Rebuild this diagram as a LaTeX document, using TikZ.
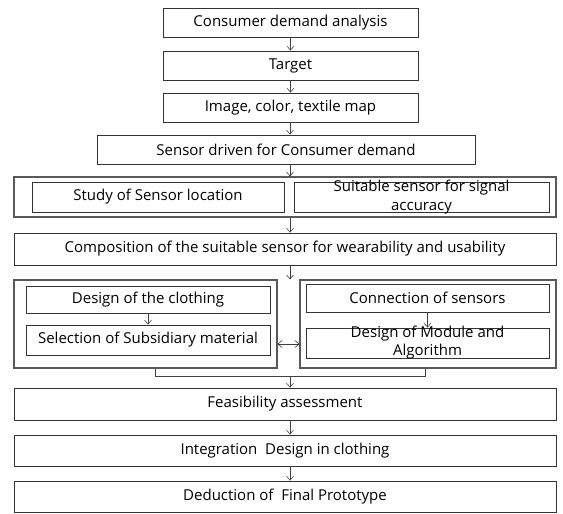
\documentclass[tikz,border=0pt]{standalone}
\usepackage{fontspec}
\setmainfont{Open Sans}
\usetikzlibrary{arrows.meta}
\begin{document}
\begin{tikzpicture}[x=1pt,y=-1pt,
  every node/.style={font=\fontsize{15}{19}\selectfont},
  box/.style={draw=black!80, line width=0.8pt, inner sep=0pt, fill=white},
  group/.style={draw=black!65, line width=1.2pt, inner sep=0pt},
  arr/.style={-{Straight Barb[length=4pt,width=7pt]}, line width=0.6pt, black!75},
  arrboth/.style={{Straight Barb[length=4pt,width=7pt]}-{Straight Barb[length=4pt,width=7pt]}, line width=0.6pt, black!75},
  link/.style={line width=0.8pt, black!75}]
\useasboundingbox (0,0) rectangle (563,514);

% top chain
\node[box, minimum width=255, minimum height=29] (b1) at (290.5,22.5) {Consumer demand analysis};
\node[box, minimum width=255, minimum height=29] (b2) at (290.5,65.5) {Target};
\node[box, minimum width=255, minimum height=29] (b3) at (290.5,107.5) {Image, color, textile map};
\node[box, minimum width=378, minimum height=29] (b4) at (286,149.5) {Sensor driven for Consumer demand};

% sensor study group
\node[group, minimum width=542, minimum height=40] (g1) at (285,197) {};
\node[box, minimum width=252, minimum height=30] (s1) at (158,197) {Study of Sensor location};
\node[box, minimum width=255, minimum height=30,
      label={[align=center, font=\fontsize{15}{19}\selectfont]center:Suitable sensor for signal\\accuracy}] (s2) at (421.5,197) {};

\node[box, minimum width=542, minimum height=32] (comp) at (285,249) {Composition of the suitable sensor for wearability and usability};

% clothing / electronics groups
\node[group, minimum width=263, minimum height=88] (gl) at (145.5,324) {};
\node[box, minimum width=244, minimum height=27] (d1) at (148,299.5) {Design of the clothing};
\node[box, minimum width=244, minimum height=30] (d2) at (148,340) {Selection of Subsidiary material};
\node[group, minimum width=256, minimum height=88] (gr) at (428,324) {};
\node[box, minimum width=243, minimum height=28] (r1) at (427.5,298) {Connection of sensors};
\node[box, minimum width=243, minimum height=30,
      label={[align=center, font=\fontsize{15}{18}\selectfont]center:Design of Module and\\Algorithm}] (r2) at (427.5,343) {};

% bottom chain
\node[box, minimum width=542, minimum height=32] (feas) at (285,404) {Feasibility assessment};
\node[box, minimum width=542, minimum height=31] (integ) at (285,450.5) {Integration~ Design in clothing};
\node[box, minimum width=542, minimum height=31] (dedu) at (285,496.5) {Deduction of~ Final Prototype};

% helper coordinates
\coordinate (sp) at (290,0);
\coordinate (bl) at (155,376);
\coordinate (br) at (425,376);
\coordinate (dy) at (0,344);

% connectors
\draw[arr] (b1) -- (b2);
\draw[arr] (b2) -- (b3);
\draw[arr] (b3.south -| sp) -- (b4.north -| sp);
\draw[arr] (b4.south -| sp) -- (g1.north -| sp);
\draw[arr] (g1.south -| sp) -- (comp.north -| sp);
\draw[arr] (comp.south -| sp) -- (gl.north -| sp);
\draw[arr] (d1) -- (d2);
\draw[arr] (r1) -- (r2);
\draw[arrboth] (gl.east |- dy) -- (gr.west |- dy);
\draw[link] (gl.south -| bl) -- (bl) -- (br) -- (gr.south -| br);
\draw[arr] (sp |- bl) -- (feas.north -| sp);
\draw[arr] (feas.south -| sp) -- (integ.north -| sp);
\draw[arr] (integ.south -| sp) -- (dedu.north -| sp);
\end{tikzpicture}
\end{document}
